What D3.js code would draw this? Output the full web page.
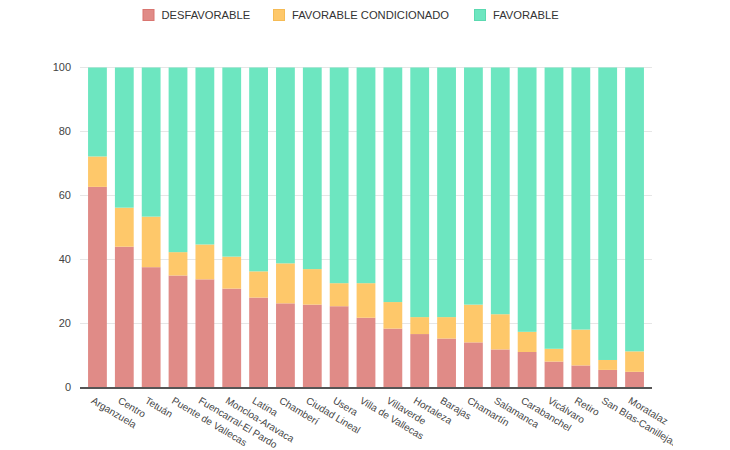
<!DOCTYPE html>
<html>
<head>
<meta charset="utf-8">
<script src="https://cdn.jsdelivr.net/npm/d3@7"></script>
<style>
  body { margin: 0; background: #fff; }
  text { font-family: "Liberation Sans", Arial, sans-serif; }
</style>
</head>
<body>
<svg id="chart" width="730" height="450"></svg>
<script>
const categories = ["Arganzuela","Centro","Tetuán","Puente de Vallecas","Fuencarral-El Pardo","Moncloa-Aravaca","Latina","Chamberí","Ciudad Lineal","Usera","Villa de Vallecas","Villaverde","Hortaleza","Barajas","Chamartín","Salamanca","Carabanchel","Vicálvaro","Retiro","San Blas-Canillejas","Moratalaz"];
const desfavorable = [62.7, 44.0, 37.6, 35.0, 33.8, 30.9, 28.1, 26.3, 25.9, 25.4, 21.8, 18.4, 16.7, 15.3, 14.1, 11.9, 11.1, 8.1, 6.9, 5.5, 4.9];
const condicionado = [9.5, 12.2, 15.8, 7.3, 10.9, 10.0, 8.2, 12.5, 11.1, 7.2, 10.8, 8.3, 5.3, 6.7, 11.8, 11.0, 6.3, 4.0, 11.2, 3.1, 6.4];
const favorable = desfavorable.map((d, i) => 100 - d - condicionado[i]);
const seriesNames = ["DESFAVORABLE", "FAVORABLE CONDICIONADO", "FAVORABLE"];
const seriesColors = ["#e08b87", "#fec86a", "#6de6c0"];
const legendStroke = ["#d97570", "#f5bb55", "#5bd9b0"];
const yTicks = [0, 20, 40, 60, 80, 100];

const svg = d3.select("#chart");
const pLeft = 80, pRight = 652, pTop = 67.5, pBottom = 387.5;

const x = d3.scaleBand().domain(categories).range([pLeft, pRight]).padding(0.3);
const y = d3.scaleLinear().domain([0, 100]).range([pBottom, pTop]);

// gridlines
svg.append("g").selectAll("line").data(yTicks.filter(t => t > 0)).join("line")
  .attr("x1", pLeft).attr("x2", pRight)
  .attr("y1", d => y(d)).attr("y2", d => y(d))
  .attr("stroke", "#e6e6e6").attr("stroke-width", 1);

// y tick labels
svg.append("g").selectAll("text").data(yTicks).join("text")
  .attr("x", 71).attr("y", d => y(d)).attr("dy", "0.35em")
  .attr("text-anchor", "end").attr("font-size", 11).attr("fill", "#444")
  .text(d => d);

// stacked bars
const rows = categories.map((c, i) => ({ cat: c, s0: desfavorable[i], s1: condicionado[i], s2: favorable[i] }));
const stack = d3.stack().keys(["s0", "s1", "s2"])(rows);
svg.append("g").selectAll("g").data(stack).join("g")
  .attr("fill", (d, i) => seriesColors[i])
  .selectAll("rect").data(d => d).join("rect")
  .attr("x", d => x(d.data.cat))
  .attr("width", x.bandwidth())
  .attr("y", d => y(d[1]))
  .attr("height", d => y(d[0]) - y(d[1]));

// bottom axis line
svg.append("line").attr("x1", pLeft).attr("x2", pRight)
  .attr("y1", pBottom + 0.5).attr("y2", pBottom + 0.5)
  .attr("stroke", "#555").attr("stroke-width", 2);

// x labels (clipped at right edge of canvas, as in the reference)
svg.append("defs").append("clipPath").attr("id", "clipx")
  .append("rect").attr("x", 0).attr("y", 0).attr("width", 673).attr("height", 450);
svg.append("g").attr("clip-path", "url(#clipx)")
  .selectAll("text").data(categories).join("text")
  .attr("transform", d => `translate(${x(d) + x.bandwidth() / 2 - 7},402.5) rotate(31)`)
  .attr("text-anchor", "start").attr("font-size", 10).attr("fill", "#444")
  .text(d => d);

// legend
const legendX = [143, 273.5, 474.5];
const lg = svg.append("g");
seriesNames.forEach((n, i) => {
  lg.append("rect").attr("x", legendX[i]).attr("y", 9.5).attr("width", 11).attr("height", 11)
    .attr("fill", seriesColors[i]).attr("stroke", legendStroke[i]).attr("stroke-width", 1);
  lg.append("text").attr("x", legendX[i] + 18.5).attr("y", 15).attr("dy", "0.35em")
    .attr("font-size", 11.2).attr("fill", "#333").text(n);
});
</script>
</body>
</html>
